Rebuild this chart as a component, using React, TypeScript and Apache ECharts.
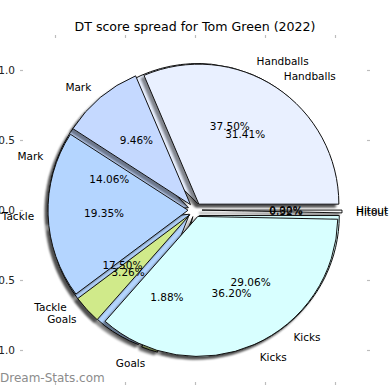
import React, { useEffect, useRef } from 'react';
import * as echarts from 'echarts';

// ---- data ----
const categories = ['Handballs', 'Mark', 'Tackle', 'Goals', 'Kicks', 'Hitout'];
const spreadA = [37.5, 14.06, 17.5, 1.88, 29.06, 0.0];
const spreadB = [31.41, 9.46, 19.35, 3.26, 36.2, 0.32];
const sliceColors = ['#e9f0ff', '#c5d9ff', '#b4d5ff', '#d0ea8a', '#d8ffff', '#f4f4f4'];
const axisTickValues = [-1, -0.5, 0, 0.5, 1];
const titleText = 'DT score spread for Tom Green (2022)';
const watermarkText = 'Dream-Stats.com';

// ---- layout ----
const CX = 195;
const CY = 210;
const R = 140;
const EXPLODE = 7;
const FONT = 'DejaVu Sans';

const fmtTick = (v: number) => (v < 0 ? '\u2212' : '') + Math.abs(v).toFixed(1);

function buildOption() {
  const mkData = (vals: number[], withColor: boolean) =>
    categories.map((name, i) => ({
      name,
      value: vals[i],
      selected: withColor,
      itemStyle: withColor ? { color: sliceColors[i] } : { color: 'rgba(0,0,0,0)' },
    }));

  const common = {
    type: 'pie',
    center: [CX, CY],
    startAngle: 0,
    clockwise: false,
    silent: true,
    avoidLabelOverlap: false,
    stillShowZeroSum: true,
    emphasis: { disabled: true },
    labelLayout: { hideOverlap: false, moveOverlap: null },
  };

  const mainPie = (vals: number[], z: number) => ({
    ...common,
    z,
    radius: R,
    selectedMode: 'multiple',
    selectedOffset: EXPLODE,
    label: { show: false },
    labelLine: { show: false },
    itemStyle: {
      borderColor: '#111',
      borderWidth: 1,
      shadowBlur: 2,
      shadowOffsetX: -3,
      shadowOffsetY: 3,
      shadowColor: 'rgba(0,0,0,0.45)',
    },
    data: mkData(vals, true),
  });

  const namePie = (vals: number[], z: number) => ({
    ...common,
    z,
    radius: R,
    itemStyle: { borderWidth: 0 },
    label: {
      show: true,
      position: 'outside',
      distanceToLabelLine: 0,
      minMargin: 0,
      fontSize: 10.5,
      fontFamily: FONT,
      color: '#000',
      formatter: '{b}',
    },
    labelLine: { show: false, length: 21, length2: 0 },
    data: mkData(vals, false),
  });

  const pctPie = (vals: number[], z: number) => ({
    ...common,
    z,
    radius: [0, 176],
    itemStyle: { borderWidth: 0 },
    label: {
      show: true,
      position: 'inner',
      fontSize: 10.5,
      fontFamily: FONT,
      color: '#000',
      formatter: (p: any) => Number(p.value).toFixed(2) + '%',
    },
    labelLine: { show: false },
    data: mkData(vals, false),
  });

  // ticks: drawn by the axes themselves; axis line kept but transparent
  const tickStyle = {
    show: true,
    inside: true,
    length: 3,
    lineStyle: { color: '#bdbdbd', width: 1.2 },
    customValues: axisTickValues,
  };
  const axisLine = { show: true, onZero: false, lineStyle: { color: 'rgba(255,255,255,0)' } };
  const labelStyle = {
    customValues: axisTickValues,
    fontSize: 10.5,
    fontFamily: FONT,
    color: '#222',
    hideOverlap: false,
    formatter: (v: number) => fmtTick(v),
  };

  return {
    animation: false,
    backgroundColor: '#fff',
    title: {
      text: titleText,
      left: 'center',
      top: 20,
      padding: 0,
      textStyle: { fontSize: 12.6, fontWeight: 'normal', color: '#000', fontFamily: FONT },
    },
    grid: { left: 20, top: 35, width: 350, height: 350, show: false, containLabel: false, outerBoundsMode: 'none' },
    xAxis: [
      {
        type: 'value', min: -1.25, max: 1.25, position: 'bottom',
        axisLine, splitLine: { show: false },
        axisTick: tickStyle, axisLabel: { ...labelStyle, margin: 3 },
      },
      {
        type: 'value', min: -1.25, max: 1.25, position: 'top',
        axisLine, splitLine: { show: false },
        axisTick: tickStyle, axisLabel: { show: false },
      },
    ],
    yAxis: [
      {
        type: 'value', min: -1.25, max: 1.25, position: 'left',
        axisLine, splitLine: { show: false },
        axisTick: tickStyle, axisLabel: { ...labelStyle, margin: 5 },
      },
      {
        type: 'value', min: -1.25, max: 1.25, position: 'right',
        axisLine, splitLine: { show: false },
        axisTick: tickStyle, axisLabel: { show: false },
      },
    ],
    graphic: [
      {
        type: 'text',
        left: 0,
        top: 372,
        style: { text: watermarkText, fontSize: 12, fontFamily: FONT, fill: '#8c8c8c' },
        z: 20,
      },
    ],
    series: [
      mainPie(spreadA, 2),
      mainPie(spreadB, 3),
      namePie(spreadA, 10),
      namePie(spreadB, 10),
      pctPie(spreadA, 11),
      pctPie(spreadB, 11),
    ],
  };
}

export default function App() {
  const ref = useRef<HTMLDivElement>(null);
  useEffect(() => {
    if (!ref.current) return;
    const chart = echarts.init(ref.current, undefined, { renderer: 'svg' });
    chart.setOption(buildOption() as any);
    return () => chart.dispose();
  }, []);
  return (
    <div
      ref={ref}
      style={{ position: 'fixed', left: 0, top: 0, width: 390, height: 390, background: '#fff' }}
    />
  );
}
